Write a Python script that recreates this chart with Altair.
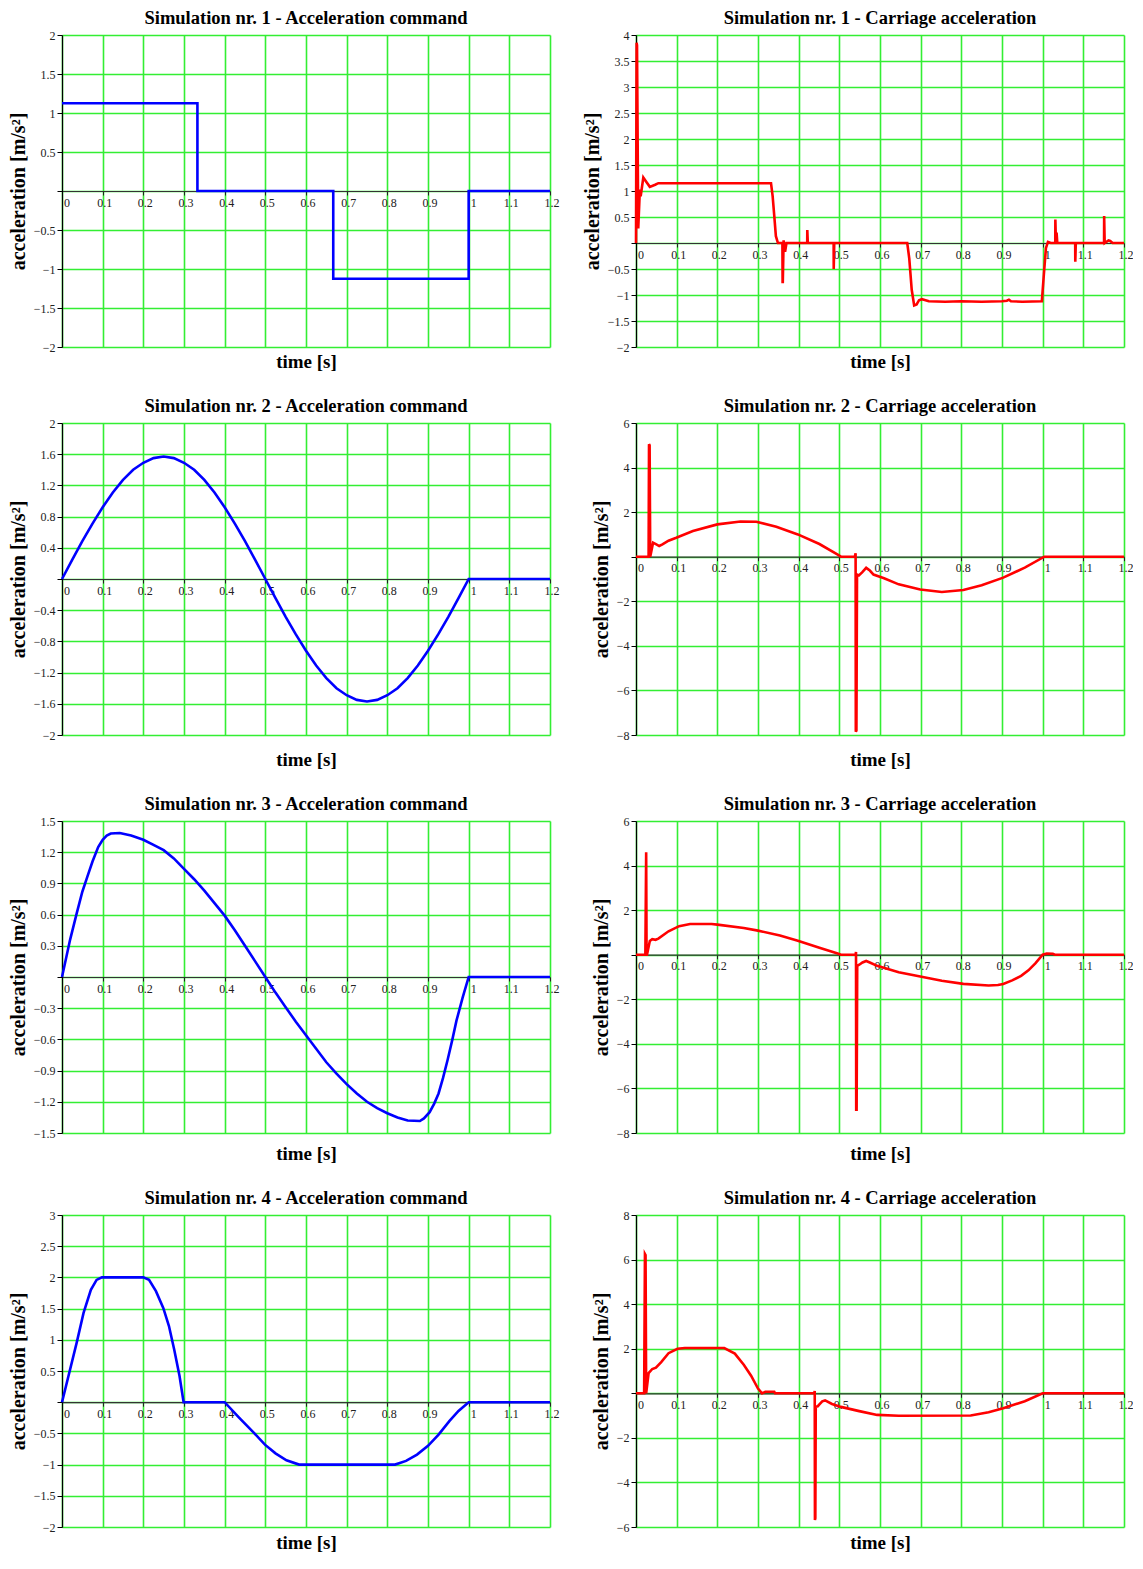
import altair as alt
import pandas as pd

W, H = 488, 312
FONT = "Liberation Serif"
GRID = "#33ee33"
BLUE = "#0000ff"
RED = "#ff0000"

x_ticks = [0, 0.1, 0.2, 0.3, 0.4, 0.5, 0.6, 0.7, 0.8, 0.9, 1.0, 1.1, 1.2]

titles_cmd = ["Simulation nr. 1 - Acceleration command", "Simulation nr. 2 - Acceleration command",
              "Simulation nr. 3 - Acceleration command", "Simulation nr. 4 - Acceleration command"]
titles_car = ["Simulation nr. 1 - Carriage acceleration", "Simulation nr. 2 - Carriage acceleration",
              "Simulation nr. 3 - Carriage acceleration", "Simulation nr. 4 - Carriage acceleration"]

# y-axis ticks per panel
y_cmd = [
    [-2, -1.5, -1, -0.5, 0, 0.5, 1, 1.5, 2],
    [-2, -1.6, -1.2, -0.8, -0.4, 0, 0.4, 0.8, 1.2, 1.6, 2],
    [-1.5, -1.2, -0.9, -0.6, -0.3, 0, 0.3, 0.6, 0.9, 1.2, 1.5],
    [-2, -1.5, -1, -0.5, 0, 0.5, 1, 1.5, 2, 2.5, 3],
]
y_car = [
    [-2, -1.5, -1, -0.5, 0, 0.5, 1, 1.5, 2, 2.5, 3, 3.5, 4],
    [-8, -6, -4, -2, 0, 2, 4, 6],
    [-8, -6, -4, -2, 0, 2, 4, 6],
    [-6, -4, -2, 0, 2, 4, 6, 8],
]

# ---------------- Simulation 1 ----------------
cmd1_t = [0, 0.333, 0.333, 0.667, 0.667, 1.0, 1.0, 1.2]
cmd1_a = [1.125, 1.125, 0, 0, -1.125, -1.125, 0, 0]

car1 = [(0, 0), (0.0015, 3.85), (0.0025, 3.8), (0.0055, 0.28), (0.0095, 1.03), (0.0115, 0.9),
        (0.018, 1.26), (0.026, 1.17), (0.034, 1.08), (0.047, 1.12), (0.055, 1.15), (0.332, 1.15),
        (0.336, 0.9), (0.340, 0.52), (0.344, 0.13), (0.349, 0.0), (0.360, 0.0), (0.3605, -0.75),
        (0.361, -0.75), (0.363, 0.05), (0.366, -0.15), (0.367, -0.15), (0.370, 0.0), (0.421, 0.0),
        (0.4212, 0.25), (0.4225, 0.0), (0.486, 0.0), (0.4862, -0.5), (0.4875, 0.0), (0.667, 0.0),
        (0.672, -0.3), (0.678, -0.9), (0.684, -1.2), (0.690, -1.18), (0.696, -1.1), (0.703, -1.08),
        (0.712, -1.1), (0.72, -1.12), (0.76, -1.13), (0.80, -1.12), (0.85, -1.13), (0.90, -1.12),
        (0.912, -1.11), (0.917, -1.09), (0.922, -1.12), (0.95, -1.13), (0.998, -1.12),
        (1.003, -0.6), (1.008, -0.1), (1.013, 0.02), (1.02, 0.0), (1.031, 0.0), (1.0312, 0.45),
        (1.0325, 0.05), (1.034, 0.0), (1.0342, 0.2), (1.036, 0.0), (1.08, 0.0), (1.0802, -0.36),
        (1.0815, 0.0), (1.151, 0.0), (1.1512, 0.52), (1.1525, 0.0), (1.162, 0.05), (1.166, 0.04),
        (1.172, 0.0), (1.2, 0.0)]

# ---------------- Simulation 2 ----------------
cmd2_t = [0, 0.025, 0.05, 0.075, 0.1, 0.125, 0.15, 0.175, 0.2, 0.225, 0.25, 0.275, 0.3, 0.325,
          0.35, 0.375, 0.4, 0.425, 0.45, 0.475, 0.5, 0.525, 0.55, 0.575, 0.6, 0.625, 0.65, 0.675,
          0.7, 0.725, 0.75, 0.775, 0.8, 0.825, 0.85, 0.875, 0.9, 0.925, 0.95, 0.975, 1.0, 1.2]
cmd2_a = [0, 0.245, 0.485, 0.71, 0.92, 1.11, 1.27, 1.40, 1.49, 1.55, 1.57, 1.55, 1.49, 1.40,
          1.27, 1.11, 0.92, 0.71, 0.485, 0.245, 0, -0.245, -0.485, -0.71, -0.92, -1.11, -1.27,
          -1.40, -1.49, -1.55, -1.57, -1.55, -1.49, -1.40, -1.27, -1.11, -0.92, -0.71, -0.485,
          -0.245, 0, 0]

car2 = [(0, 0), (0.031, 0), (0.032, 5.05), (0.0335, 5.0), (0.035, 0), (0.042, 0.63), (0.05, 0.55),
        (0.057, 0.48), (0.065, 0.55), (0.08, 0.72), (0.099, 0.85), (0.14, 1.15), (0.2, 1.45),
        (0.257, 1.58), (0.296, 1.57), (0.345, 1.34), (0.398, 1.0), (0.451, 0.57), (0.495, 0.1),
        (0.504, 0), (0.538, 0), (0.540, 0.15), (0.5405, -7.85), (0.542, -7.8), (0.5435, -0.8),
        (0.548, -0.84), (0.556, -0.7), (0.566, -0.5), (0.575, -0.62), (0.584, -0.8), (0.61, -0.97),
        (0.646, -1.24), (0.699, -1.47), (0.752, -1.58), (0.805, -1.49), (0.85, -1.28),
        (0.903, -0.94), (0.956, -0.49), (1.004, 0), (1.2, 0)]

# ---------------- Simulation 3 ----------------
cmd3_t = [0, 0.02, 0.036, 0.05, 0.062, 0.075, 0.089, 0.1, 0.11, 0.12, 0.142, 0.17, 0.2, 0.225,
          0.25, 0.275, 0.3, 0.325, 0.35, 0.375, 0.4, 0.425, 0.45, 0.475, 0.5, 0.525, 0.55, 0.575,
          0.6, 0.625, 0.65, 0.675, 0.7, 0.725, 0.75, 0.775, 0.8, 0.825, 0.85, 0.88, 0.89, 0.904,
          0.915, 0.926, 0.937, 0.948, 0.96, 0.97, 0.985, 1.0, 1.2]
cmd3_a = [0, 0.36, 0.61, 0.82, 0.96, 1.11, 1.25, 1.32, 1.36, 1.38, 1.385, 1.36, 1.32, 1.27,
          1.22, 1.14, 1.04, 0.94, 0.83, 0.71, 0.59, 0.45, 0.30, 0.15, 0, -0.15, -0.29, -0.43,
          -0.56, -0.69, -0.82, -0.93, -1.03, -1.12, -1.20, -1.26, -1.31, -1.35, -1.38, -1.385,
          -1.36, -1.30, -1.22, -1.12, -0.97, -0.80, -0.60, -0.42, -0.2, 0, 0]

car3 = [(0, 0), (0.023, 0), (0.025, 4.6), (0.026, 0), (0.027, 0), (0.034, 0.62), (0.04, 0.7),
        (0.048, 0.67), (0.055, 0.72), (0.08, 1.05), (0.106, 1.28), (0.133, 1.38), (0.186, 1.38),
        (0.2, 1.35), (0.265, 1.2), (0.3, 1.08), (0.354, 0.86), (0.398, 0.63), (0.451, 0.31),
        (0.496, 0.05), (0.504, 0), (0.540, 0), (0.541, 0.12), (0.5415, -6.95), (0.5425, -6.95),
        (0.544, -0.5), (0.549, -0.45), (0.557, -0.35), (0.566, -0.28), (0.575, -0.35),
        (0.593, -0.5), (0.646, -0.79), (0.699, -0.98), (0.752, -1.17), (0.805, -1.31),
        (0.867, -1.38), (0.89, -1.36), (0.903, -1.31), (0.925, -1.15), (0.947, -0.95),
        (0.965, -0.7), (0.982, -0.39), (1.0, 0), (1.01, 0.05), (1.025, 0.04), (1.03, 0), (1.2, 0)]

# ---------------- Simulation 4 ----------------
cmd4_t = [0, 0.036, 0.053, 0.071, 0.085, 0.098, 0.2, 0.214, 0.231, 0.249, 0.263, 0.276, 0.289,
          0.299, 0.4, 0.436, 0.472, 0.499, 0.525, 0.552, 0.583, 0.819, 0.846, 0.873, 0.9, 0.926,
          0.953, 0.975, 1.0, 1.2]
cmd4_a = [0, 0.95, 1.43, 1.8, 1.96, 2.0, 2.0, 1.96, 1.78, 1.51, 1.22, 0.84, 0.42,
          0, 0, -0.25, -0.49, -0.68, -0.82, -0.93, -1.0, -1.0, -0.94, -0.84, -0.70, -0.52,
          -0.30, -0.14, 0, 0]

car4 = [(0, 0), (0.02, 0), (0.022, 6.25), (0.0235, 6.2), (0.025, 0), (0.031, 0.91), (0.04, 1.09),
        (0.049, 1.15), (0.062, 1.4), (0.08, 1.8), (0.102, 2.0), (0.12, 2.03), (0.217, 2.03),
        (0.243, 1.78), (0.265, 1.28), (0.283, 0.79), (0.30, 0.21), (0.31, 0), (0.318, 0.07),
        (0.34, 0.07), (0.342, 0), (0.438, 0), (0.4395, 0.1), (0.44, -5.69), (0.441, -5.6),
        (0.442, -0.6), (0.447, -0.58), (0.451, -0.5), (0.458, -0.36), (0.465, -0.32),
        (0.482, -0.48), (0.504, -0.61), (0.549, -0.8), (0.593, -0.97), (0.646, -1.01),
        (0.823, -1.0), (0.867, -0.85), (0.903, -0.67), (0.956, -0.36), (1.0, 0), (1.2, 0)]

# distance (px) of the "time [s]" title centre below each row's plot bottom
x_title_gap = [14, 24, 20, 15]


def panel(title, t, a, color, yvals, gap):
    df = pd.DataFrame({"t": t, "a": a})
    df["i"] = range(len(df))
    ymin, ymax = yvals[0], yvals[-1]
    below = H * (0 - ymin) / (ymax - ymin)  # px from zero line to plot bottom
    x = alt.X(
        "t:Q",
        scale=alt.Scale(domain=[0, 1.2], nice=False, zero=False),
        axis=alt.Axis(
            values=x_ticks, format=".1~f", offset=-below,
            labelFlush=False, labelOverlap=False,
            labelAlign={"condition": {"test": "datum.value == 0 || datum.value == 1",
                                      "value": "left"}, "value": "center"},
            labelOffset=1.5, labelPadding=2, labelFontSize=12, labelColor="#222", labelFont=FONT,
            tickSize=4, tickColor="#222", domainColor="#333", domainWidth=1.2,
            grid=True, gridColor=GRID, gridWidth=1.6,
            title="time [s]", titleY=below + gap, titleBaseline="middle",
            titleFont=FONT, titleFontSize=19, titleFontWeight="bold", titleColor="black",
            zindex=0,
        ),
    )
    y = alt.Y(
        "a:Q",
        scale=alt.Scale(domain=[ymin, ymax], nice=False, zero=False),
        axis=alt.Axis(
            values=yvals, format=".2~f", labelExpr="datum.value == 0 ? '' : datum.label",
            labelPadding=2, labelFontSize=12, labelColor="#222", labelFont=FONT,
            tickSize=5, tickColor="black", domainColor="black", domainWidth=1.2,
            grid=True, gridColor=GRID, gridWidth=1.6,
            title="acceleration [m/s²]", titlePadding=5,
            titleFont=FONT, titleFontSize=20, titleFontWeight="bold", titleColor="black",
            zindex=0,
        ),
    )
    return (
        alt.Chart(df, title=alt.Title(title, font=FONT, fontSize=18.5, fontWeight="bold",
                                      color="black", anchor="middle", frame="group", offset=2))
        .mark_line(color=color, strokeWidth=2.6)
        .encode(x=x, y=y, order="i:Q")
        .properties(width=W, height=H)
    )


panels = []
cmd_data = [(cmd1_t, cmd1_a), (cmd2_t, cmd2_a), (cmd3_t, cmd3_a), (cmd4_t, cmd4_a)]
car_data = [car1, car2, car3, car4]
for k in range(4):
    ct, ca = cmd_data[k]
    panels.append(panel(titles_cmd[k], ct, ca, BLUE, y_cmd[k], x_title_gap[k]))
    rt = [p[0] for p in car_data[k]]
    ra = [p[1] for p in car_data[k]]
    panels.append(panel(titles_car[k], rt, ra, RED, y_car[k], x_title_gap[k]))

chart = (
    alt.concat(*panels, columns=2, spacing={"row": 25, "column": 23},
               align={"row": "each", "column": "all"})
    .properties(padding=0, background="white")
    .configure_view(stroke=None)
)

chart.save("out.html", embed_options={"renderer": "svg", "actions": False})
